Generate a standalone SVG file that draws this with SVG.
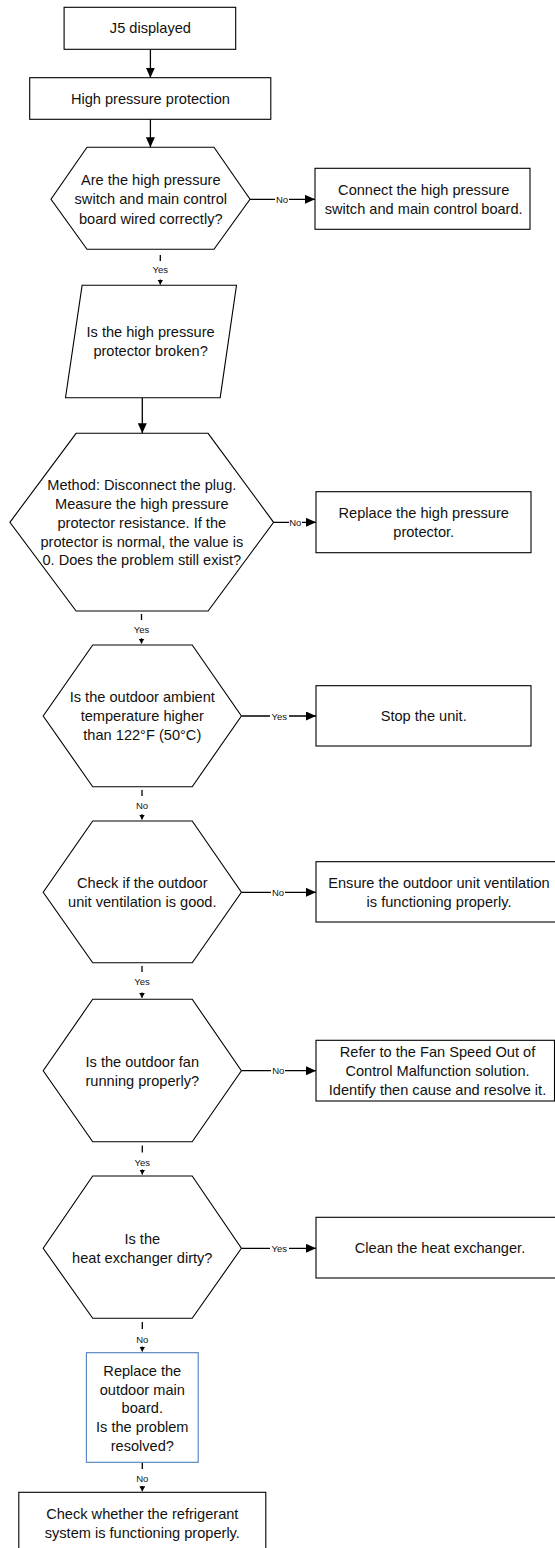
<svg xmlns="http://www.w3.org/2000/svg" width="555" height="1548" viewBox="0 0 555 1548">
<defs>
<style>
.n{fill:#fff;stroke:#000;stroke-width:1.1}
.nb{fill:#fff;stroke:#4f7fbd;stroke-width:1.1}
.t{font-family:"Liberation Sans",Arial,sans-serif;font-size:14.6px;fill:#111;text-anchor:middle;dominant-baseline:central}
.l{font-family:"Liberation Sans",Arial,sans-serif;font-size:9.5px;fill:#111;text-anchor:middle;dominant-baseline:central}
.c{fill:none;stroke:#000;stroke-width:1.3}
.cb{marker-end:url(#big)}
.cs{marker-end:url(#small)}
.bg{fill:#fff;stroke:none}
</style>
<marker id="big" markerUnits="userSpaceOnUse" markerWidth="11" markerHeight="10" refX="10" refY="4.5" orient="auto"><path d="M0,0 L10,4.5 L0,9 z" fill="#000"/></marker>
<marker id="small" markerUnits="userSpaceOnUse" markerWidth="6" markerHeight="7" refX="5" refY="3" orient="auto"><path d="M0,0 L5,3 L0,6 z" fill="#000"/></marker>
</defs>

<g id="connectors">
<line class="c cb" x1="150.4" y1="49.3" x2="150.4" y2="77.7"/>
<line class="c cb" x1="150.4" y1="119.3" x2="150.4" y2="147.3"/>
<line class="c cb" x1="250" y1="199.3" x2="315" y2="199.3"/>
<rect class="bg" x="275" y="193" width="14" height="12"/>
<text class="l" x="282" y="199.3">No</text>
<line class="c cs" x1="160.3" y1="255" x2="160.3" y2="284.5"/>
<rect class="bg" x="150" y="261" width="21" height="18.5"/>
<text class="l" x="160.3" y="269.3">Yes</text>
<line class="c cb" x1="142.3" y1="397.7" x2="142.3" y2="433.3"/>
<line class="c cb" x1="273.6" y1="522.3" x2="316" y2="522.3"/>
<rect class="bg" x="289" y="516" width="13" height="12"/>
<text class="l" x="295.3" y="522.3">No</text>
<line class="c cs" x1="141.5" y1="614" x2="141.5" y2="643.5"/>
<rect class="bg" x="131" y="620" width="21" height="18.2"/>
<text class="l" x="141.5" y="629.3">Yes</text>
<line class="c cb" x1="241.4" y1="716" x2="316" y2="716"/>
<rect class="bg" x="270" y="710" width="19" height="12"/>
<text class="l" x="279.3" y="716">Yes</text>
<line class="c cs" x1="142" y1="790" x2="142" y2="819.5"/>
<rect class="bg" x="132" y="796" width="20" height="18.2"/>
<text class="l" x="142" y="805">No</text>
<line class="c cb" x1="241.4" y1="892.3" x2="316" y2="892.3"/>
<rect class="bg" x="271" y="886" width="14" height="12"/>
<text class="l" x="278" y="892.3">No</text>
<line class="c cs" x1="142" y1="966" x2="142" y2="997.8"/>
<rect class="bg" x="132" y="972" width="20" height="20.5"/>
<text class="l" x="142" y="981">Yes</text>
<line class="c cb" x1="241.4" y1="1070.7" x2="316" y2="1070.7"/>
<rect class="bg" x="271" y="1064.5" width="14" height="12"/>
<text class="l" x="278.3" y="1070.7">No</text>
<line class="c cs" x1="142.3" y1="1145.5" x2="142.3" y2="1174.5"/>
<rect class="bg" x="132" y="1152.5" width="20" height="17"/>
<text class="l" x="142.3" y="1162">Yes</text>
<line class="c cb" x1="241.4" y1="1248.3" x2="316" y2="1248.3"/>
<rect class="bg" x="270" y="1242" width="19" height="12"/>
<text class="l" x="279.3" y="1248.3">Yes</text>
<line class="c cs" x1="142.3" y1="1322" x2="142.3" y2="1351.5"/>
<rect class="bg" x="132" y="1329" width="20" height="17.5"/>
<text class="l" x="142.3" y="1339.3">No</text>
<line class="c cs" x1="142.3" y1="1462.3" x2="142.3" y2="1491.3"/>
<rect class="bg" x="132" y="1469" width="20" height="17"/>
<text class="l" x="142.3" y="1478.3">No</text>
</g>

<g id="n1"><rect class="n" x="64.1" y="7.3" width="171.6" height="42"/><text class="t" x="150.4" y="28.3">J5 displayed</text></g>
<g id="n2"><rect class="n" x="29.7" y="77.7" width="241.1" height="41.6"/><text class="t" x="150.4" y="99.3">High pressure protection</text></g>
<g id="n3"><polygon class="n" points="87,147.3 214,147.3 250,199.3 214,249.3 87,249.3 51,199.3"/>
<text class="t" x="150.8" y="180">Are the high pressure</text>
<text class="t" x="150.8" y="199.3">switch and main control</text>
<text class="t" x="150.8" y="218.7">board wired correctly?</text></g>
<g id="n4"><rect class="n" x="315" y="168.3" width="215" height="61"/>
<text class="t" x="423.7" y="189.5">Connect the high pressure</text>
<text class="t" x="423.7" y="208.5">switch and main control board.</text></g>
<g id="n5"><polygon class="n" points="82.1,285.3 236.5,285.3 220.2,397.7 65.5,397.7"/>
<text class="t" x="150.6" y="332.3">Is the high pressure</text>
<text class="t" x="150.6" y="351">protector broken?</text></g>
<g id="n6"><polygon class="n" points="76.1,433.3 208.1,433.3 273.6,522.3 208.1,611 76.1,611 9.9,522.3"/>
<text class="t" x="141.8" y="485">Method: Disconnect the plug.</text>
<text class="t" x="141.8" y="504">Measure the high pressure</text>
<text class="t" x="141.8" y="523">protector resistance. If the</text>
<text class="t" x="141.8" y="541.5">protector is normal, the value is</text>
<text class="t" x="141.8" y="560">0. Does the problem still exist?</text></g>
<g id="n7"><rect class="n" x="316" y="491.7" width="215" height="61"/>
<text class="t" x="423.7" y="513.3">Replace the high pressure</text>
<text class="t" x="423.7" y="532.3">protector.</text></g>
<g id="n8"><polygon class="n" points="92.7,645 192.2,645 241.4,716 192.2,786.7 92.7,786.7 43.2,716"/>
<text class="t" x="142.3" y="697.3">Is the outdoor ambient</text>
<text class="t" x="142.3" y="716.3">temperature higher</text>
<text class="t" x="142.3" y="735">than 122°F (50°C)</text></g>
<g id="n9"><rect class="n" x="316" y="685.7" width="215" height="60.3"/>
<text class="t" x="423.7" y="716">Stop the unit.</text></g>
<g id="n10"><polygon class="n" points="92.7,821 192.2,821 241.4,892.3 192.2,962.7 92.7,962.7 43.2,892.3"/>
<text class="t" x="142.3" y="883.3">Check if the outdoor</text>
<text class="t" x="142.3" y="902">unit ventilation is good.</text></g>
<g id="n11"><rect class="n" x="316" y="861.7" width="246" height="60.3"/>
<text class="t" x="439" y="883">Ensure the outdoor unit ventilation</text>
<text class="t" x="439" y="902">is functioning properly.</text></g>
<g id="n12"><polygon class="n" points="92.7,999.3 192.2,999.3 241.4,1070.7 192.2,1141.7 92.7,1141.7 43.2,1070.7"/>
<text class="t" x="142.3" y="1062.3">Is the outdoor fan</text>
<text class="t" x="142.3" y="1081">running properly?</text></g>
<g id="n13"><rect class="n" x="316" y="1040.3" width="238.5" height="60.7"/>
<text class="t" x="437.5" y="1052.3">Refer to the Fan Speed Out of</text>
<text class="t" x="437.5" y="1071">Control Malfunction solution.</text>
<text class="t" x="437.5" y="1090">Identify then cause and resolve it.</text></g>
<g id="n14"><polygon class="n" points="92.7,1176 192.2,1176 241.4,1248.3 192.2,1318.3 92.7,1318.3 43.2,1248.3"/>
<text class="t" x="142.3" y="1239">Is the</text>
<text class="t" x="142.3" y="1258">heat exchanger dirty?</text></g>
<g id="n15"><rect class="n" x="316" y="1217.3" width="246" height="60.7"/>
<text class="t" x="440" y="1248.3">Clean the heat exchanger.</text></g>
<g id="n16"><rect class="nb" x="86.4" y="1352.7" width="111.8" height="109.6"/>
<text class="t" x="142.3" y="1371">Replace the</text>
<text class="t" x="142.3" y="1390">outdoor main</text>
<text class="t" x="142.3" y="1408.3">board.</text>
<text class="t" x="142.3" y="1427.3">Is the problem</text>
<text class="t" x="142.3" y="1445.7">resolved?</text></g>
<g id="n17"><rect class="n" x="18.8" y="1492.3" width="247" height="70"/>
<text class="t" x="142.3" y="1514">Check whether the refrigerant</text>
<text class="t" x="142.3" y="1533.3">system is functioning properly.</text></g>
</svg>
